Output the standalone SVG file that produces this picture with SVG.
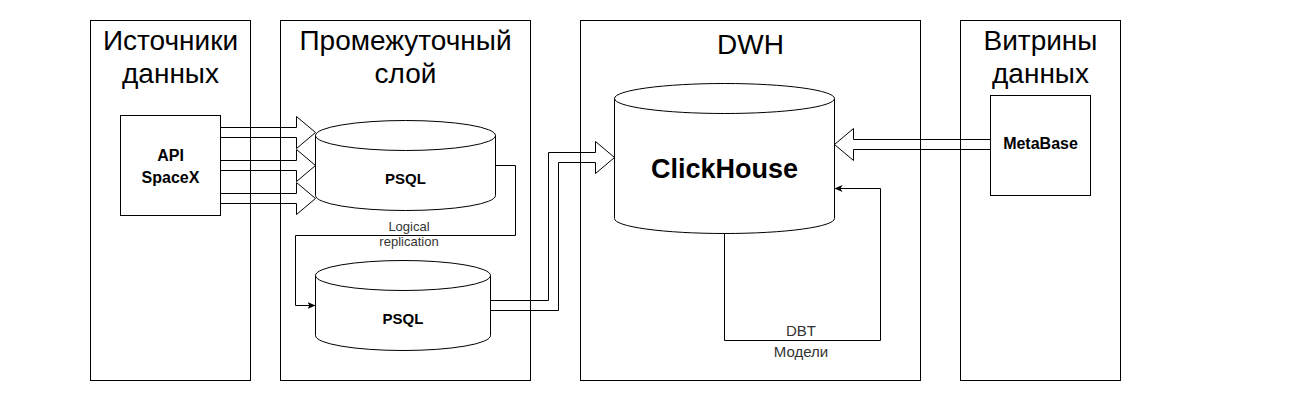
<svg xmlns="http://www.w3.org/2000/svg" width="1310" height="400" viewBox="0 0 1310 400">
<style>
  text { font-family: "Liberation Sans", Arial, Helvetica, sans-serif; fill: #000; text-anchor: middle; }
  .title { font-size: 28px; }
  .bold { font-weight: bold; }
  .lbl { font-size: 13px; fill: #333; }
  .lbl2 { font-size: 15px; fill: #333; }
  .box { fill: none; stroke: #000; stroke-width: 1; }
  .node { fill: #fff; stroke: #000; stroke-width: 1; }
  .cyl { fill: #fff; stroke: #000; stroke-width: 1; }
  .cylf { fill: none; stroke: #000; stroke-width: 1; }
  .edge { fill: none; stroke: #000; stroke-width: 1; }
  .flex { fill: none; stroke: #000; stroke-width: 1; stroke-linejoin: miter; }
</style>
<defs>
  <marker id="arr" viewBox="0 0 8 8" refX="8" refY="4" markerWidth="8" markerHeight="8" markerUnits="userSpaceOnUse" orient="auto">
    <path d="M0,0.5 L8,4 L0,7.5 L2,4 Z" fill="#000"/>
  </marker>
</defs>
<rect width="1310" height="400" fill="#fff"/>

<g id="containers">
  <g id="sources">
    <rect class="box" x="90.5" y="20.5" width="160" height="360"/>
    <text class="title" x="170.5" y="49.5">Источники</text>
    <text class="title" x="170.5" y="83">данных</text>
  </g>
  <g id="staging">
    <rect class="box" x="280.5" y="20.5" width="250" height="360"/>
    <text class="title" x="405.5" y="49.5">Промежуточный</text>
    <text class="title" x="405.5" y="83">слой</text>
  </g>
  <g id="dwh">
    <rect class="box" x="580.5" y="20.5" width="340" height="360"/>
    <text class="title" x="750.5" y="54">DWH</text>
  </g>
  <g id="marts">
    <rect class="box" x="960.5" y="20.5" width="160" height="360"/>
    <text class="title" x="1040.5" y="49.5">Витрины</text>
    <text class="title" x="1040.5" y="83">данных</text>
  </g>
</g>

<g id="api">
  <rect class="node" x="120.5" y="115.5" width="100" height="100"/>
  <text class="bold" x="170.5" y="160.5" font-size="16">API</text>
  <text class="bold" x="170.5" y="182.5" font-size="16">SpaceX</text>
</g>

<g id="psql1">
  <path class="cyl" d="M315.5,135.5 A90,15 0 0 1 405.5,120.5 A90,15 0 0 1 495.5,135.5 L495.5,195.5 A90,15 0 0 1 405.5,210.5 A90,15 0 0 1 315.5,195.5 Z"/>
  <path class="cylf" d="M315.5,135.5 A90,15 0 0 0 405.5,150.5 A90,15 0 0 0 495.5,135.5"/>
  <text class="bold" x="405.5" y="184" font-size="15">PSQL</text>
</g>

<g id="psql2">
  <path class="cyl" d="M315.5,275.5 A87.5,15 0 0 1 403,260.5 A87.5,15 0 0 1 490.5,275.5 L490.5,335.5 A87.5,15 0 0 1 403,350.5 A87.5,15 0 0 1 315.5,335.5 Z"/>
  <path class="cylf" d="M315.5,275.5 A87.5,15 0 0 0 403,290.5 A87.5,15 0 0 0 490.5,275.5"/>
  <text class="bold" x="403" y="323.5" font-size="15">PSQL</text>
</g>

<g id="clickhouse">
  <path class="cyl" d="M614.5,98.5 A110,15 0 0 1 724.5,83.5 A110,15 0 0 1 834.5,98.5 L834.5,218.5 A110,15 0 0 1 724.5,233.5 A110,15 0 0 1 614.5,218.5 Z"/>
  <path class="cylf" d="M614.5,98.5 A110,15 0 0 0 724.5,113.5 A110,15 0 0 0 834.5,98.5"/>
  <text class="bold" x="724.5" y="178" font-size="27">ClickHouse</text>
</g>

<g id="metabase">
  <rect class="node" x="990.5" y="95.5" width="100" height="100"/>
  <text class="bold" x="1040.5" y="149" font-size="16">MetaBase</text>
</g>

<g id="connectors">
  <path class="flex" d="M220.5,127.5 L296.5,127.5 L296.5,116.5 L315.5,132.5 L296.5,148.5 L296.5,137.5 L220.5,137.5"/>
  <path class="flex" d="M220.5,160.5 L296.5,160.5 L296.5,149.5 L315.5,165.5 L296.5,181.5 L296.5,170.5 L220.5,170.5"/>
  <path class="flex" d="M220.5,193.5 L296.5,193.5 L296.5,182.5 L315.5,198.5 L296.5,214.5 L296.5,203.5 L220.5,203.5"/>

  <path class="edge" d="M495.5,165.5 L515.5,165.5 L515.5,235.5 L295.5,235.5 L295.5,305.5 L315.5,305.5" marker-end="url(#arr)"/>
  <text class="lbl" x="409" y="230.5">Logical</text>
  <text class="lbl" x="409" y="246">replication</text>

  <path class="flex" d="M490.5,300.5 L548.5,300.5 L548.5,152.5 L595.5,152.5 L595.5,141.5 L614.5,157.5 L595.5,173.5 L595.5,162.5 L558.5,162.5 L558.5,310.5 L490.5,310.5"/>

  <path class="flex" d="M990.5,139.5 L853.5,139.5 L853.5,128.5 L834.5,144.5 L853.5,160.5 L853.5,149.5 L990.5,149.5"/>

  <path class="edge" d="M724.5,233.5 L724.5,340.5 L880.5,340.5 L880.5,188.5 L834.5,188.5" marker-end="url(#arr)"/>
  <text class="lbl2" x="801" y="335.5">DBT</text>
  <text class="lbl2" x="801" y="356.5">Модели</text>
</g>
</svg>
